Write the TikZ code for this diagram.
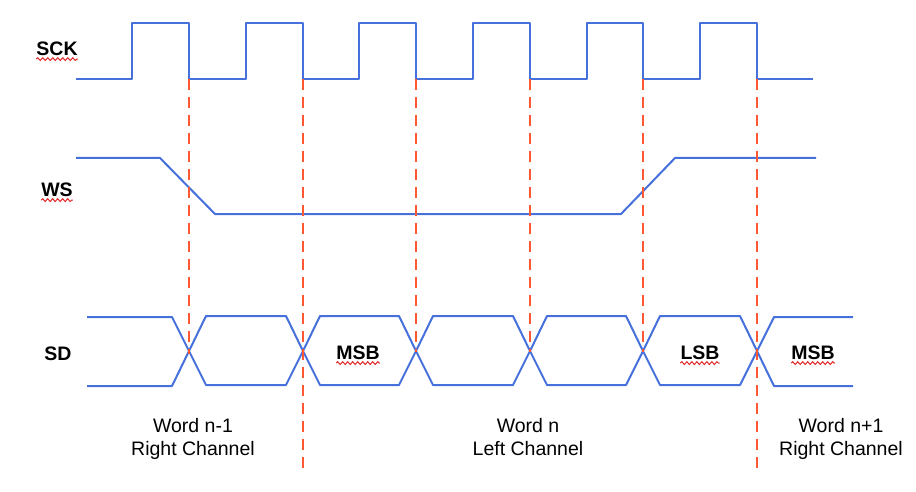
\documentclass[tikz,border=0pt]{standalone}
\usepackage{fontspec}
\setmainfont{Liberation Sans}
\usetikzlibrary{decorations.pathmorphing}
\definecolor{sigblue}{RGB}{70,112,220}
\definecolor{markred}{RGB}{255,88,50}
\definecolor{spellred}{RGB}{225,40,40}
\tikzset{
  sig/.style={draw=sigblue, line width=2pt, line join=round},
  edgeline/.style={draw=markred, line width=2pt, dash pattern=on 11pt off 7pt},
  siglabel/.style={font=\fontsize{19.5}{23}\selectfont\bfseries, inner sep=0pt},
  wordlabel/.style={font=\fontsize{19.5}{23}\selectfont, inner sep=0pt, anchor=base},
  spell/.style={draw=spellred, line width=1pt, decorate,
    decoration={snake, amplitude=1.4pt, segment length=5pt}}
}
\begin{document}
\begin{tikzpicture}[x=1pt,y=-1pt]
\useasboundingbox[fill=white] (0,0) rectangle (916,492);
% SCK
\draw[sig] (76,79) -- (132,79) -- (132,23) -- (189,23) -- (189,79)
  -- (246,79) -- (246,23) -- (303,23) -- (303,79)
  -- (359,79) -- (359,23) -- (416,23) -- (416,79)
  -- (473,79) -- (473,23) -- (530,23) -- (530,79)
  -- (587,79) -- (587,23) -- (643,23) -- (643,79)
  -- (700,79) -- (700,23) -- (757,23) -- (757,79) -- (813,79);
% WS
\draw[sig] (76,158) -- (160,158) -- (215,214) -- (621,214) -- (675,158) -- (816,158);
% crossing points
\foreach \n/\x in {1/189,2/303,3/416,4/530,5/643,6/757}{
  \coordinate (c\n) at (\x,351);
  \coordinate (f\n) at (\x,79);
}
% SD
\draw[sig] (87,317) -- (172,317) -- (c1) -- (172,386) -- (87,386);
\foreach \a/\b in {1/2,2/3,3/4,4/5,5/6}{
  \draw[sig] (c\a) -- ([xshift=17pt,yshift=-34pt]c\a) -- ([xshift=-17pt,yshift=-34pt]c\b)
    -- (c\b) -- ([xshift=-17pt,yshift=35pt]c\b) -- ([xshift=17pt,yshift=35pt]c\a) -- cycle;
}
\draw[sig] (853,317) -- (774,317) -- (c6) -- (774,386) -- (853,386);
% dashed edge lines
\coordinate (e2) at (303,475);
\coordinate (e6) at (757,475);
\draw[edgeline] (f1) -- ([yshift=-3pt]c1);
\draw[edgeline] (f2) -- (e2);
\draw[edgeline] (f3) -- ([yshift=-1pt]c3);
\draw[edgeline] (f4) -- ([yshift=-1pt]c4);
\draw[edgeline] (f5) -- ([yshift=-1pt]c5);
\draw[edgeline] (f6) -- (e6);
% labels
\node[siglabel] (sck) at (57,49) {SCK};
\node[siglabel] (ws) at (57,190) {WS};
\node[siglabel] (sd) at (58,354) {SD};
\node[siglabel] (msb1) at (358,353) {MSB};
\node[siglabel] (lsb) at (700,353) {LSB};
\node[siglabel] (msb2) at (813,353) {MSB};
% spell-check underlines
\draw[spell] ([yshift=-3pt]sck.south west) -- ([yshift=-3pt]sck.south east);
\draw[spell] ([yshift=-3pt]ws.south west) -- ([yshift=-3pt]ws.south east);
\draw[spell] ([yshift=-3pt]msb1.south west) -- ([yshift=-3pt]msb1.south east);
\draw[spell] ([yshift=-3pt]lsb.south west) -- ([yshift=-3pt]lsb.south east);
\draw[spell] ([yshift=-3pt]msb2.south west) -- ([yshift=-3pt]msb2.south east);
% word labels
\node[wordlabel] (w1a) at (193,432) {Word n-1};
\node[wordlabel] (w1b) at (193,455) {Right Channel};
\node[wordlabel] (w2a) at (528,432) {Word n};
\node[wordlabel] (w2b) at (528,455) {Left Channel};
\node[wordlabel] (w3a) at (841,432) {Word n+1};
\node[wordlabel] (w3b) at (841,455) {Right Channel};
\end{tikzpicture}
\end{document}
